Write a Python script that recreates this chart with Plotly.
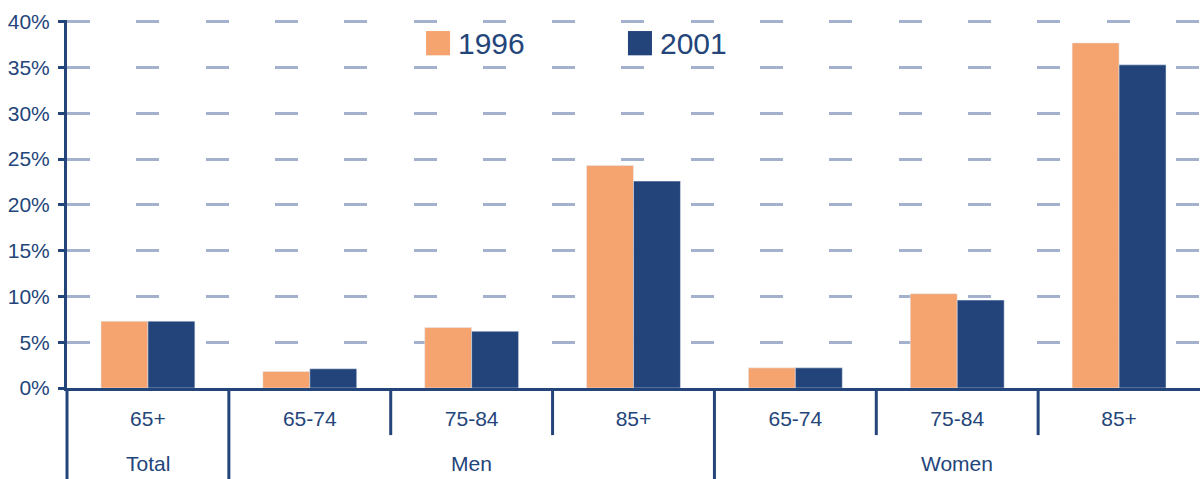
import plotly.graph_objects as go

# data
groups = ["Total", "Men", "Men", "Men", "Women", "Women", "Women"]
ages = ["65+", "65-74", "75-84", "85+", "65-74", "75-84", "85+"]
share_1996 = [7.3, 1.8, 6.6, 24.3, 2.2, 10.3, 37.7]
share_2001 = [7.3, 2.1, 6.2, 22.6, 2.2, 9.6, 35.3]
y_ticks = [0, 5, 10, 15, 20, 25, 30, 35, 40]

COLORS = {
    "1996": "#F5A36F",
    "2001": "#23447A",
    "ink": "#23457A",
    "grid": "#A3B1CC",
}
FONT = "Liberation Sans, Arial, sans-serif"

pos = list(range(len(ages)))

fig = go.Figure()
fig.add_bar(x=pos, y=share_1996, name="1996", marker_color=COLORS["1996"],
            showlegend=False)
fig.add_bar(x=pos, y=share_2001, name="2001", marker_color=COLORS["2001"],
            showlegend=False)

fig.update_layout(
    width=1203,
    height=479,
    margin=dict(l=67, r=3, t=20, b=91),
    plot_bgcolor="white",
    paper_bgcolor="white",
    barmode="group",
    bargap=0.42,
    bargroupgap=0,
    font=dict(family=FONT, color=COLORS["ink"], size=21),
)

# top of range nudged past 40 so the 40% grid line is still drawn
fig.update_yaxes(
    range=[0, 40.2],
    tickvals=y_ticks,
    ticktext=[f"{v}%" for v in y_ticks],
    showgrid=True,
    gridcolor=COLORS["grid"],
    gridwidth=2.5,
    griddash="23px,46.3px",
    zeroline=False,
    showline=True,
    linecolor=COLORS["ink"],
    linewidth=3,
    ticks="outside",
    ticklen=6,
    tickwidth=3,
    tickcolor=COLORS["ink"],
    ticklabelstandoff=4,
    tickfont=dict(size=21),
)

fig.update_xaxes(
    range=[-0.5, len(ages) - 0.5],
    tickvals=pos,
    ticktext=ages,
    ticks="",
    showgrid=False,
    zeroline=False,
    showline=True,
    linecolor=COLORS["ink"],
    linewidth=3,
    ticklabelstandoff=10,
    tickfont=dict(size=21),
)

# separators under the axis: short between ages, long between groups
n = len(ages)
for i in range(n):
    outer = i == 0 or groups[i] != groups[i - 1]
    fig.add_shape(
        type="line", xref="paper", yref="paper",
        x0=i / n, x1=i / n, y0=0, y1=-0.26 if outer else -0.128,
        line=dict(color=COLORS["ink"], width=3),
    )

# group labels
seen = []
for g in groups:
    if g not in seen:
        seen.append(g)
for g in seen:
    idx = [i for i, v in enumerate(groups) if v == g]
    centre = (idx[0] + idx[-1] + 1) / 2 / n
    fig.add_annotation(
        text=g, xref="paper", yref="paper", x=centre, y=-0.205,
        showarrow=False, xanchor="center", yanchor="middle",
        font=dict(size=21, color=COLORS["ink"]),
    )

# legend drawn by hand so the swatches can be large
legend_items = [("1996", 0.3169), ("2001", 0.4951)]
for name, x0 in legend_items:
    fig.add_shape(
        type="rect", xref="paper", yref="paper",
        x0=x0, x1=x0 + 0.0212, y0=0.904, y1=0.970,
        fillcolor=COLORS[name], line=dict(width=0),
    )
    fig.add_annotation(
        text=name, xref="paper", yref="paper", x=x0 + 0.0265, y=0.937,
        showarrow=False, xanchor="left", yanchor="middle",
        font=dict(size=30, color=COLORS["ink"]),
    )

# drop the default page margin so the figure sits at the window's corner
fig.write_html(
    "out.html",
    config={"displayModeBar": False},
    post_script="document.body.style.margin='0';",
)
